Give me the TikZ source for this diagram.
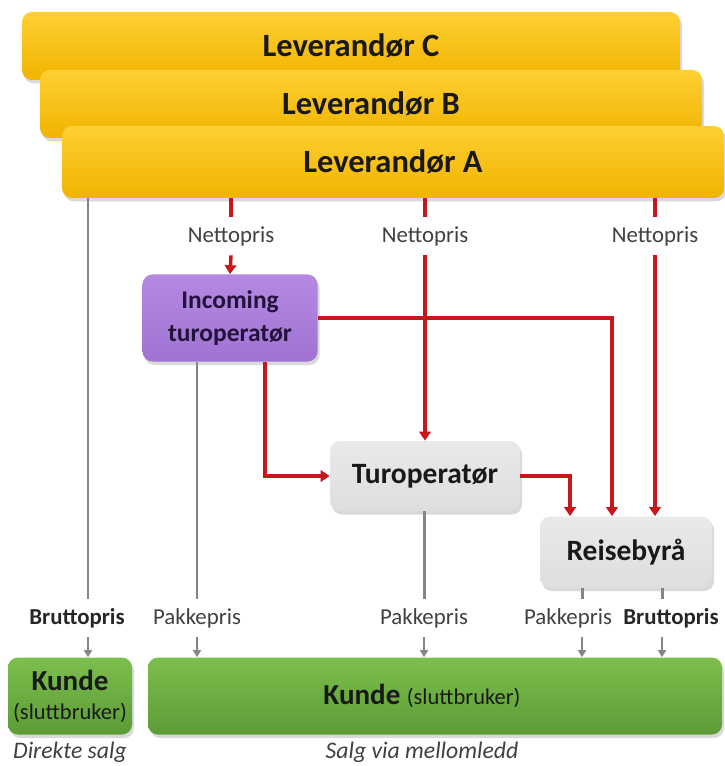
\documentclass[tikz,border=0pt]{standalone}
\usepackage{fontspec}
\setmainfont{Carlito}
\usetikzlibrary{positioning,calc,shadows,arrows.meta}

\definecolor{gullLys}{HTML}{FFCF33}
\definecolor{gullMork}{HTML}{F0B400}
\definecolor{lillaLys}{HTML}{B589E2}
\definecolor{lillaMork}{HTML}{A073D3}
\definecolor{lillaTekst}{HTML}{22133C}
\definecolor{graaLys}{HTML}{E9E9E9}
\definecolor{graaMork}{HTML}{DEDEDE}
\definecolor{gronnLys}{HTML}{7CBF4D}
\definecolor{gronnMork}{HTML}{5C9B36}
\definecolor{rodLinje}{HTML}{C8161D}
\definecolor{graaLinje}{HTML}{858585}
\definecolor{graaTekst}{HTML}{404040}

\tikzset{
  boks/.style={rounded corners=0.2cm, align=center, inner sep=0pt,
    drop shadow={shadow xshift=0.04cm, shadow yshift=-0.07cm, opacity=0.3}},
  leverandor/.style={boks, top color=gullLys, bottom color=gullMork,
    font=\fontsize{18.5}{22}\selectfont\bfseries, text=black!90},
  lilla/.style={boks, top color=lillaLys, bottom color=lillaMork,
    font=\fontsize{14.5}{19}\selectfont\bfseries, text=lillaTekst},
  graaboks/.style={boks, top color=graaLys, bottom color=graaMork,
    font=\fontsize{16.8}{20}\selectfont\bfseries, text=black!90},
  kundeboks/.style={boks, top color=gronnLys, bottom color=gronnMork, text=black!90,
    font=\fontsize{16.5}{16.5}\selectfont},
  pris/.style={inner sep=0pt, minimum height=38*0.02cm,
    font=\fontsize{13}{15}\selectfont, text=graaTekst},
  bunntekst/.style={inner sep=0pt, font=\fontsize{13.5}{16}\selectfont\itshape, text=graaTekst},
  rod/.style={draw=rodLinje, line width=2pt},
  rodpil/.style={rod, -{Triangle[width=0.23cm,length=0.18cm]}},
  graa/.style={draw=graaLinje, line width=1.7pt},
  graapil/.style={draw=graaLinje, line width=1.2pt, -{Triangle[width=0.16cm,length=0.14cm]}}
}

\newcommand{\kundetekst}{{\fontsize{16.5}{19}\selectfont\bfseries Kunde}}
\newcommand{\slutt}{{\fontsize{12.8}{15}\selectfont (sluttbruker)}}

\begin{document}
\begin{tikzpicture}[x=0.02cm, y=-0.02cm]

    \useasboundingbox (0,0) rectangle (724,766);

    % Leverandorer
    \node[leverandor, minimum width=658*0.02cm, minimum height=68*0.02cm] (levC) at (351,46) {Leverandør C};
    \node[leverandor, minimum width=662*0.02cm, minimum height=68*0.02cm] (levB) at (371,104) {Leverandør B};
    \node[leverandor, minimum width=662*0.02cm, minimum height=72*0.02cm] (levA) at (393,162) {Leverandør A};

    % Mellomledd
    \node[lilla, minimum width=175*0.02cm, minimum height=87*0.02cm] (inc) at (230,318) {Incoming\\turoperatør};
    \node[graaboks, minimum width=190*0.02cm, minimum height=70*0.02cm] (tur) at (425,476) {Turoperatør};
    \node[graaboks, minimum width=172*0.02cm, minimum height=71*0.02cm] (reise) at (626,552) {Reisebyrå};

    % Kunder
    \node[kundeboks, minimum width=124*0.02cm, minimum height=77*0.02cm] (kundeD) at (70,696) {\kundetekst\\\slutt};
    \node[kundeboks, minimum width=574*0.02cm, minimum height=77*0.02cm] (kunde) at (435,696) {\kundetekst\ \slutt\hspace{0.52cm}};

    % Pristekster
    \node[pris] (netto1) at (231,236) {Nettopris};
    \node[pris] (netto2) at (425,236) {Nettopris};
    \node[pris] (netto3) at (655,236) {Nettopris};
    \node[pris, font=\fontsize{13}{15}\selectfont\bfseries, text=black!85] (brutto1) at (77,618) {Bruttopris};
    \node[pris] (pakke1) at (197,618) {Pakkepris};
    \node[pris] (pakke2) at (424,618) {Pakkepris};
    \node[pris] (pakke3) at (568,618) {Pakkepris};
    \node[pris, font=\fontsize{13}{15}\selectfont\bfseries, text=black!85] (brutto2) at (671,618) {Bruttopris};

    \node[bunntekst] (direkte) at (70,752) {Direkte salg};
    \node[bunntekst] (mellom) at (422,752) {Salg via mellomledd};

    \coordinate (g1) at (88,618);
    \coordinate (g3) at (582,618);
    \coordinate (g4) at (662,618);

    % Nettopris (rode piler)
    \draw[rod] (levA.south -| netto1) -- (netto1.north);
    \draw[rodpil] (netto1.south) -- (inc.north);
    \draw[rod] (levA.south -| netto2) -- (netto2.north);
    \draw[rodpil] (netto2.south) -- (tur.north);
    \draw[rod] (levA.south -| netto3) -- (netto3.north);
    \draw[rodpil] (netto3.south) -- (netto3.south |- reise.north);

    \draw[rodpil] (inc.east) -| ($(reise.north)+(-14,0)$);
    \draw[rodpil] ($(inc.south)+(35,0)$) |- (tur.west);
    \draw[rodpil] (tur.east) -| ($(reise.north)+(-56,0)$);

    % Sluttpris (graa piler)
    \draw[graa] (levA.south -| g1) -- (brutto1.north -| g1);
    \draw[graapil] (brutto1.south -| g1) -- (kundeD.north -| g1);
    \draw[graa] (inc.south -| pakke1) -- (pakke1.north);
    \draw[graapil] (pakke1.south) -- (pakke1.south |- kunde.north);
    \draw[graa] (tur.south -| pakke2) -- (pakke2.north);
    \draw[graapil] (pakke2.south) -- (pakke2.south |- kunde.north);
    \draw[graa] (reise.south -| g3) -- (pakke3.north -| g3);
    \draw[graapil] (pakke3.south -| g3) -- (kunde.north -| g3);
    \draw[graa] (reise.south -| g4) -- (brutto2.north -| g4);
    \draw[graapil] (brutto2.south -| g4) -- (kunde.north -| g4);

\end{tikzpicture}
\end{document}
